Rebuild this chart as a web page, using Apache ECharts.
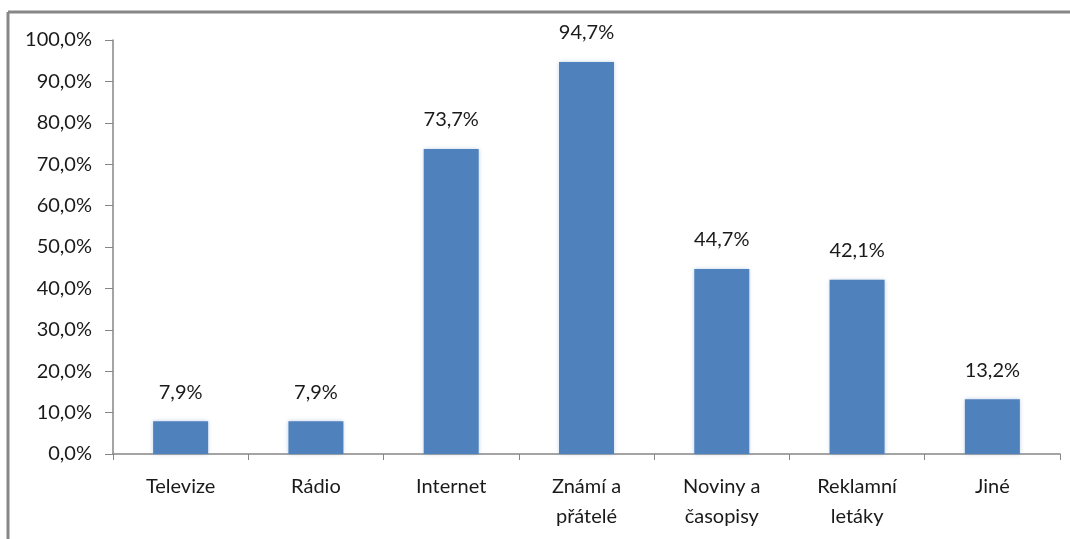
<!DOCTYPE html>
<html>
<head>
<meta charset="utf-8">
<script src="https://cdn.jsdelivr.net/npm/echarts@6/dist/echarts.min.js"></script>
<style>
  html, body { margin: 0; padding: 0; background: #fff; }
  #main { width: 1070px; height: 539px; }
</style>
</head>
<body>
<div id="main"></div>
<script>
var categories = ["Televize", "Rádio", "Internet", "Známí a\npřátelé", "Noviny a\nčasopisy", "Reklamní\nletáky", "Jiné"];
var shares = [7.9, 7.9, 73.7, 94.7, 44.7, 42.1, 13.2];

var chart = echarts.init(document.getElementById("main"));

// čárka místo tečky, jako v originále
function fmt(v, digits) {
    return v.toFixed(digits).replace(".", ",") + "%";
}

var frame = { stroke: "#878787", lineWidth: 3 };

var option = {
    animation: false,
    textStyle: { fontFamily: "Lato, 'Open Sans', sans-serif" },
    graphic: [
        { type: "line", silent: true, shape: { x1: 8, y1: 12, x2: 1070, y2: 12 }, style: frame },
        { type: "line", silent: true, shape: { x1: 8, y1: 12, x2: 8, y2: 539 }, style: frame }
    ],
    grid: { left: 113, right: 10, top: 40, bottom: 85 },
    xAxis: {
        type: "category",
        data: categories,
        axisLine: { lineStyle: { color: "#868686", width: 1.5 } },
        axisTick: { show: true, length: 6, lineStyle: { color: "#868686" } },
        axisLabel: {
            color: "#1a1a1a",
            fontSize: 20,
            lineHeight: 30,
            margin: 18,
            interval: 0
        }
    },
    yAxis: {
        type: "value",
        min: 0,
        max: 100,
        interval: 10,
        axisLine: { show: true, lineStyle: { color: "#868686", width: 1.5 } },
        axisTick: { show: true, length: 8, lineStyle: { color: "#868686" } },
        splitLine: { show: false },
        axisLabel: {
            color: "#1a1a1a",
            fontSize: 20,
            margin: 21,
            formatter: function (v) { return fmt(v, 1); }
        }
    },
    series: [{
        type: "bar",
        data: shares,
        barWidth: 55,
        itemStyle: {
            color: "#4F81BD",
            shadowBlur: 4,
            shadowColor: "rgba(79,129,189,0.35)"
        },
        label: {
            show: true,
            position: "top",
            distance: 19,
            color: "#1a1a1a",
            fontSize: 20,
            formatter: function (p) { return fmt(p.value, 1); }
        }
    }]
};

chart.setOption(option);
</script>
</body>
</html>
